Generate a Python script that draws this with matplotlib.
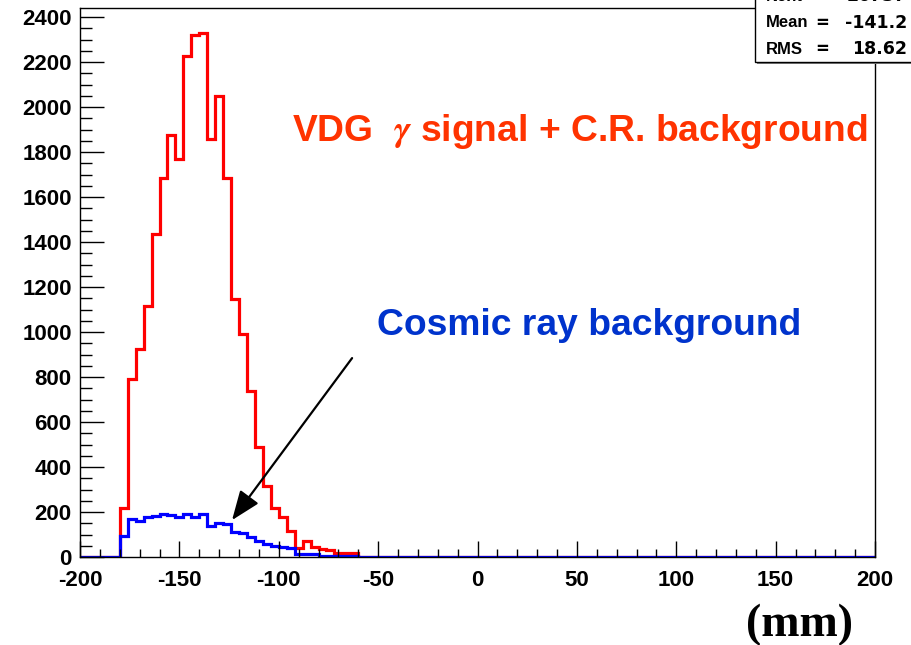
import numpy as np
import matplotlib
matplotlib.use('Agg')
import matplotlib.pyplot as plt
from matplotlib.patches import Rectangle

plt.rcParams['font.family'] = 'Liberation Sans'
plt.rcParams['font.weight'] = 'bold'
plt.rcParams['mathtext.fontset'] = 'stix'
plt.rcParams['axes.unicode_minus'] = False

# histogramas: 100 bins de 4 mm entre -200 y 200
bordes = np.arange(-200, 201, 4)
senal_cr = [0]*5 + [219, 791, 924, 1115, 1434, 1683, 1875, 1767, 2227, 2320,
                    2327, 1860, 2049, 1683, 1147, 990, 739, 490, 315, 219,
                    179, 116, 38, 71, 46, 34, 33, 16, 16, 16] + [0]*65
fondo_cr = [0]*5 + [93, 167, 161, 176, 184, 190, 187, 176, 190, 179,
                    190, 139, 153, 145, 110, 105, 90, 73, 58, 50,
                    46, 38, 13, 13, 13, 6, 6, 6, 6, 6] + [0]*65

stats_nombres = ['Nent', 'Mean', 'RMS']
stats_valores = ['26737', '-141.2', '18.62']

fig = plt.figure(figsize=(9.11, 6.45), dpi=100)
ax = fig.add_axes([80/911, 1-557/645, 795/911, 549/645])

ax.stairs(senal_cr, bordes, color='#ff0000', lw=2.3)
ax.stairs(fondo_cr, bordes, color='#0000ff', lw=2.3)

ax.set_xlim(-200, 200)
ax.set_ylim(0, 2440)
ax.set_xticks(np.arange(-200, 201, 50))
ax.set_xticks(np.arange(-200, 201, 10), minor=True)
ax.set_yticks(np.arange(0, 2401, 200))
ax.set_yticks(np.arange(0, 2441, 50), minor=True)
ax.tick_params(axis='x', which='major', direction='in', length=11.5, width=1, labelsize=16, pad=9)
ax.tick_params(axis='x', which='minor', direction='in', length=5.8, width=1)
ax.tick_params(axis='y', which='major', direction='in', length=17, width=1, labelsize=16, pad=6)
ax.tick_params(axis='y', which='minor', direction='in', length=8.6, width=1)
for s in ax.spines.values():
    s.set_linewidth(1)

ax.text(-93.3, 1893, 'VDG  $\\gamma$ signal + C.R. background', color='#ff3300',
        fontsize=26.8, fontweight='bold', va='center', ha='left')
ax.text(-50.6, 1027, 'Cosmic ray background', color='#0033cc',
        fontsize=26.8, fontweight='bold', va='center', ha='left')
ax.annotate('', xy=(-123.5, 164), xytext=(-63.1, 884),
            arrowprops=dict(arrowstyle='-|>,head_length=1.8,head_width=0.7',
                            color='black', lw=1.6, shrinkA=0, shrinkB=0))

fig.text(800/911, 1-625/645, '(mm)', family='Liberation Serif', fontweight='bold',
         fontsize=33, ha='center', va='center')

# caja de estadísticas (cortada arriba)
fig.patches.append(Rectangle((757/911, 1-64/645), 160/911, 80/645, transform=fig.transFigure,
                             facecolor='#808080', edgecolor='none', zorder=5))
fig.patches.append(Rectangle((755/911, 1-62/645), 160/911, 80/645, transform=fig.transFigure,
                             facecolor='white', edgecolor='black', lw=1, zorder=6))
for i in range(3):
    y = 1 - (-3.6 + 26.3*i)/645
    fig.text(766/911, y, stats_nombres[i], fontsize=12, ha='left', va='center', zorder=7)
    fig.text(822/911, y, '=', family='DejaVu Sans', fontsize=12, ha='center', va='center', zorder=7)
    fig.text(907/911, y, stats_valores[i], family='DejaVu Sans', fontsize=12.5,
             ha='right', va='center', zorder=7)

fig.savefig('out.png', dpi=100)
